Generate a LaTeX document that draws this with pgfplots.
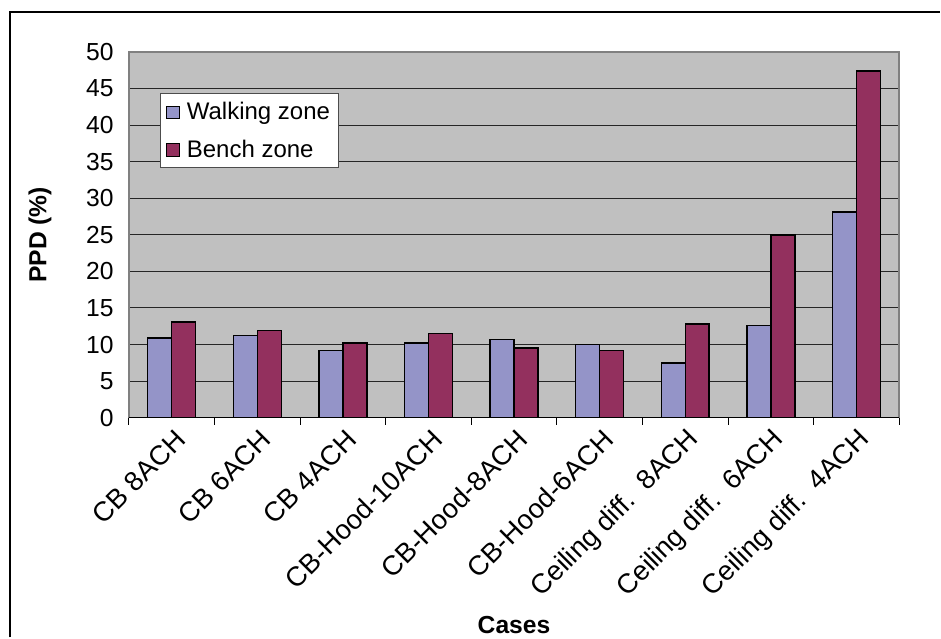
\documentclass[border=0pt]{standalone}
\usepackage{pgfplots}
\pgfplotsset{compat=1.18}
\usepackage{fontspec}
\setmainfont{Liberation Sans}

\definecolor{walk}{RGB}{148,148,200}
\definecolor{bench}{RGB}{147,48,94}
\definecolor{plotbg}{RGB}{192,192,192}
\definecolor{frame}{RGB}{128,128,128}

\begin{document}
\begin{tikzpicture}
% canvas 941 x 638 px, 1 px = 0.75pt, origin top left
\path (0pt,0pt) rectangle (705.75pt,-478.5pt);
\draw[line width=1.2pt] (7.5pt,-478.5pt) -- (7.5pt,-9pt) -- (705.75pt,-9pt);

\begin{axis}[
    at={(96.75pt,-313.5pt)}, anchor=south west,
    scale only axis,
    width=578.25pt, height=274.5pt,
    font=\fontsize{18.5}{22}\selectfont,
    /pgf/number format/assume math mode=true,
    ybar=0pt, bar width=0.28,
    xmin=-0.5, xmax=8.5,
    ymin=0, ymax=50,
    ytick={0,5,...,50},
    xtick={0,...,8},
    xticklabels={CB 8ACH, CB 6ACH, CB 4ACH, CB-Hood-10ACH, CB-Hood-8ACH, CB-Hood-6ACH,
        Ceiling diff.\ \ 8ACH, Ceiling diff.\ \ 6ACH, Ceiling diff.\ \ 4ACH},
    xticklabel style={rotate=45, anchor=east, yshift=-14pt, xshift=-1pt,
        font=\fontsize{20.5}{24}\selectfont},
    yticklabel style={xshift=-8pt},
    major tick length=0pt,
    minor xtick={-0.5,0.5,...,8.5},
    minor tick length=5.25pt,
    xtick pos=bottom, ytick pos=left,
    tick align=outside,
    minor tick style={black, line width=0.8pt},
    ymajorgrids,
    major grid style={black!85, line width=0.8pt},
    axis background/.style={fill=plotbg},
    axis line style={frame, line width=1.2pt},
    xlabel={\bfseries Cases},
    ylabel={\bfseries PPD (\%)},
    x label style={at={(axis description cs:0.5,-0.566)}, anchor=center},
    y label style={at={(axis description cs:-0.1154,0.5)}, anchor=center},
    legend cell align=left,
    legend style={at={(axis description cs:0.0402,0.887)}, anchor=north west,
        draw=black!70, line width=0.6pt, fill=white,
        inner xsep=4pt, inner ysep=4.5pt, row sep=9.5pt,
        font=\fontsize{18}{21.6}\selectfont},
    legend image code/.code={
        \draw[#1, line width=0.8pt] (1pt,-5pt) rectangle (10.5pt,4.5pt);
        \path[draw=none, fill=none] (0pt,0pt) -- (14pt,0pt);},
]
\addplot[fill=walk, draw=black, line width=1.1pt] coordinates {
    (0,10.9) (1,11.2) (2,9.2) (3,10.2) (4,10.65) (5,10.0) (6,7.5) (7,12.6) (8,28.1)};
\addplot[fill=bench, draw=black, line width=1.1pt] coordinates {
    (0,13.1) (1,11.9) (2,10.2) (3,11.5) (4,9.5) (5,9.2) (6,12.8) (7,25.0) (8,47.4)};
\legend{Walking zone, Bench zone}
\draw[black, line width=1.2pt] (rel axis cs:0,0) -- (rel axis cs:1,0);
\end{axis}
\end{tikzpicture}
\end{document}
